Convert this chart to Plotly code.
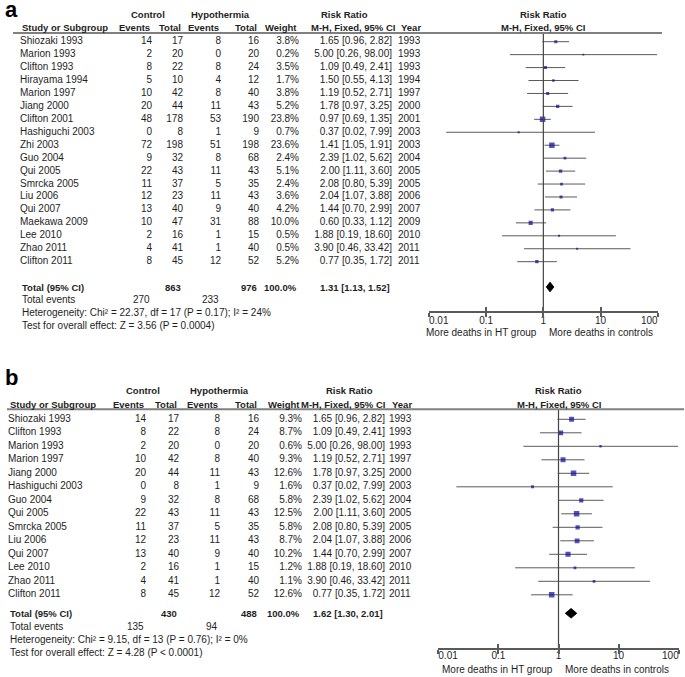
import math
import plotly.graph_objects as go

W, H = 685, 677

# ---- panel a data ----
studies_a = ["Shiozaki 1993", "Marion 1993", "Clifton 1993", "Hirayama 1994", "Marion 1997",
             "Jiang 2000", "Clifton 2001", "Hashiguchi 2003", "Zhi 2003", "Guo 2004", "Qui 2005",
             "Smrcka 2005", "Liu 2006", "Qui 2007", "Maekawa 2009", "Lee 2010", "Zhao 2011",
             "Clifton 2011"]
ctrl_ev_a = [14, 2, 8, 5, 10, 20, 48, 0, 72, 9, 22, 11, 12, 13, 10, 2, 4, 8]
ctrl_tot_a = [17, 20, 22, 10, 42, 44, 178, 8, 198, 32, 43, 37, 23, 40, 47, 16, 41, 45]
hyp_ev_a = [8, 0, 8, 4, 8, 11, 53, 1, 51, 8, 11, 5, 11, 9, 31, 1, 1, 12]
hyp_tot_a = [16, 20, 24, 12, 40, 43, 190, 9, 198, 68, 43, 35, 43, 40, 88, 15, 40, 52]
weight_a = [3.8, 0.2, 3.5, 1.7, 3.8, 5.2, 23.8, 0.7, 23.6, 2.4, 5.1, 2.4, 3.6, 4.2, 10.0, 0.5, 0.5, 5.2]
rr_a = [1.65, 5.00, 1.09, 1.50, 1.19, 1.78, 0.97, 0.37, 1.41, 2.39, 2.00, 2.08, 2.04, 1.44, 0.60, 1.88, 3.90, 0.77]
lo_a = [0.96, 0.26, 0.49, 0.55, 0.52, 0.97, 0.69, 0.02, 1.05, 1.02, 1.11, 0.80, 1.07, 0.70, 0.33, 0.19, 0.46, 0.35]
hi_a = [2.82, 98.00, 2.41, 4.13, 2.71, 3.25, 1.35, 7.99, 1.91, 5.62, 3.60, 5.39, 3.88, 2.99, 1.12, 18.60, 33.42, 1.72]
years_a = [1993, 1993, 1993, 1994, 1997, 2000, 2001, 2003, 2003, 2004, 2005, 2005, 2006, 2007, 2009, 2010, 2011, 2011]
total_a = {"ctrl_tot": 863, "hyp_tot": 976, "rr": 1.31, "lo": 1.13, "hi": 1.52, "ctrl_ev": 270, "hyp_ev": 233}
het_a = "Heterogeneity: Chi² = 22.37, df = 17 (P = 0.17); I² = 24%"
test_a = "Test for overall effect: Z = 3.56 (P = 0.0004)"

# ---- panel b data ----
studies_b = ["Shiozaki 1993", "Clifton 1993", "Marion 1993", "Marion 1997", "Jiang 2000",
             "Hashiguchi 2003", "Guo 2004", "Qui 2005", "Smrcka 2005", "Liu 2006", "Qui 2007",
             "Lee 2010", "Zhao 2011", "Clifton 2011"]
ctrl_ev_b = [14, 8, 2, 10, 20, 0, 9, 22, 11, 12, 13, 2, 4, 8]
ctrl_tot_b = [17, 22, 20, 42, 44, 8, 32, 43, 37, 23, 40, 16, 41, 45]
hyp_ev_b = [8, 8, 0, 8, 11, 1, 8, 11, 5, 11, 9, 1, 1, 12]
hyp_tot_b = [16, 24, 20, 40, 43, 9, 68, 43, 35, 43, 40, 15, 40, 52]
weight_b = [9.3, 8.7, 0.6, 9.3, 12.6, 1.6, 5.8, 12.5, 5.8, 8.7, 10.2, 1.2, 1.1, 12.6]
rr_b = [1.65, 1.09, 5.00, 1.19, 1.78, 0.37, 2.39, 2.00, 2.08, 2.04, 1.44, 1.88, 3.90, 0.77]
lo_b = [0.96, 0.49, 0.26, 0.52, 0.97, 0.02, 1.02, 1.11, 0.80, 1.07, 0.70, 0.19, 0.46, 0.35]
hi_b = [2.82, 2.41, 98.00, 2.71, 3.25, 7.99, 5.62, 3.60, 5.39, 3.88, 2.99, 18.60, 33.42, 1.72]
years_b = [1993, 1993, 1993, 1997, 2000, 2003, 2004, 2005, 2005, 2006, 2007, 2010, 2011, 2011]
total_b = {"ctrl_tot": 430, "hyp_tot": 488, "rr": 1.62, "lo": 1.30, "hi": 2.01, "ctrl_ev": 135, "hyp_ev": 94}
het_b = "Heterogeneity: Chi² = 9.15, df = 13 (P = 0.76); I² = 0%"
test_b = "Test for overall effect: Z = 4.28 (P < 0.0001)"

tick_vals = [0.01, 0.1, 1, 10, 100]
tick_text = ["0.01", "0.1", "1", "10", "100"]
favours = ["More deaths in HT group", "More deaths in controls"]

FONT = "Liberation Sans, Arial, sans-serif"
FS = 10
FSB = 9.5   # bold header text runs a bit narrower in the original
TXT = "#1e1e1e"
LINE = "#5a5a5a"
BLUE = "#0a0a9a"

fig = go.Figure()

# panel layout (pixels)
panels = [
    dict(key="a", x="x2", y="y", p0=41.7, dp=12.94, head1=14, head2=27, hline=33,
         hl_x0=13, hl_x1=662, fx0=429, fx1=657.7, axis_y=312, tick_y=321, fav_y=332,
         left=20, c_ev=152, c_tot=183, h_ev=221, h_tot=259, wt=299, ci=392, ci_h=397, yr=398,
         ctl_c=148, hyp_c=220, rr_c=344, lab_y=9,
         studies=studies_a, ce=ctrl_ev_a, ct=ctrl_tot_a, he=hyp_ev_a, ht=hyp_tot_a, w=weight_a,
         rr=rr_a, lo=lo_a, hi=hi_a, yrs=years_a, tot=total_a, het=het_a, test=test_a, tot_y=287),
    dict(key="b", x="x3", y="y2", p0=419.3, dp=13.5, head1=390.7, head2=404, hline=409.3,
         hl_x0=7, hl_x1=684, fx0=438.3, fx1=678.7, axis_y=649, tick_y=656, fav_y=669,
         left=8, c_ev=146, c_tot=179, h_ev=220, h_tot=259, wt=302, ci=385, ci_h=387, yr=389,
         ctl_c=143, hyp_c=219, rr_c=349, lab_y=377,
         studies=studies_b, ce=ctrl_ev_b, ct=ctrl_tot_b, he=hyp_ev_b, ht=hyp_tot_b, w=weight_b,
         rr=rr_b, lo=lo_b, hi=hi_b, yrs=years_b, tot=total_b, het=het_b, test=test_b, tot_y=613.3),
]

annotations = []
shapes = []


def txt(x, y, s, anchor="left", bold=False, size=None, xref="x", yref="paper", color=TXT):
    if size is None:
        size = FSB if bold else FS
    annotations.append(dict(x=x, y=y, xref=xref, yref=yref, text=("<b>%s</b>" % s) if bold else s,
                            showarrow=False, xanchor=anchor, yanchor="middle",
                            font=dict(family=FONT, size=size, color=color)))


def py(p):
    return 1 - p / H


for P in panels:
    n = len(P["studies"])
    rows = list(range(n))
    row = lambda p: (p - P["p0"]) / P["dp"]

    # table columns as text traces on the pixel x-axis
    cols = [
        (P["left"], P["studies"], "middle right"),
        (P["c_ev"], P["ce"], "middle left"),
        (P["c_tot"], P["ct"], "middle left"),
        (P["h_ev"], P["he"], "middle left"),
        (P["h_tot"], P["ht"], "middle left"),
        (P["wt"], ["%.1f%%" % v for v in P["w"]], "middle left"),
        (P["ci"], ["%.2f [%.2f, %.2f]" % (a, b, c) for a, b, c in zip(P["rr"], P["lo"], P["hi"])], "middle left"),
        (P["yr"], P["yrs"], "middle right"),
    ]
    for xpos, vals, pos in cols:
        fig.add_trace(go.Scatter(x=[xpos] * n, y=rows, mode="text", text=[str(v) for v in vals],
                                 textposition=pos, textfont=dict(family=FONT, size=FS, color=TXT),
                                 xaxis="x", yaxis=P["y"], hoverinfo="skip", showlegend=False))

    # confidence intervals
    cx, cy = [], []
    for i in rows:
        cx += [P["lo"][i], P["hi"][i], None]
        cy += [i, i, None]
    fig.add_trace(go.Scatter(x=cx, y=cy, mode="lines", line=dict(color=LINE, width=1),
                             xaxis=P["x"], yaxis=P["y"], hoverinfo="skip", showlegend=False))
    wmax = max(P["w"])
    fig.add_trace(go.Scatter(x=P["rr"], y=rows, mode="markers",
                             marker=dict(symbol="square", color=BLUE,
                                         size=[1.5 + 4 * math.sqrt(v / wmax) for v in P["w"]],
                                         line=dict(width=0)),
                             xaxis=P["x"], yaxis=P["y"], hoverinfo="skip", showlegend=False))
    # line of no effect
    fig.add_trace(go.Scatter(x=[1, 1], y=[row(P["hline"]), row(P["axis_y"])], mode="lines",
                             line=dict(color="#444444", width=1.2),
                             xaxis=P["x"], yaxis=P["y"], hoverinfo="skip", showlegend=False))
    # pooled diamond
    t = P["tot"]
    ty = row(P["tot_y"])
    hh = 4.8 / P["dp"]
    fig.add_trace(go.Scatter(x=[t["lo"], t["rr"], t["hi"], t["rr"], t["lo"]],
                             y=[ty, ty - hh, ty, ty + hh, ty], mode="lines", fill="toself",
                             fillcolor="black", line=dict(color="black", width=1),
                             xaxis=P["x"], yaxis=P["y"], hoverinfo="skip", showlegend=False))
    # tick labels on the log axis
    fig.add_trace(go.Scatter(x=tick_vals, y=[row(P["tick_y"])] * 5, mode="text", text=tick_text,
                             textposition=["middle right", "middle center", "middle center",
                                           "middle center", "middle left"],
                             textfont=dict(family=FONT, size=FS, color=TXT),
                             xaxis=P["x"], yaxis=P["y"], hoverinfo="skip", showlegend=False))

    # headers
    txt(3, py(P["lab_y"]), P["key"], bold=True, size=22, color="black")
    txt(P["ctl_c"], py(P["head1"]), "Control", "center", True)
    txt(P["hyp_c"], py(P["head1"]), "Hypothermia", "center", True)
    txt(P["rr_c"], py(P["head1"]), "Risk Ratio", "center", True)
    txt(P["left"], py(P["head2"]), "Study or Subgroup", "left", True)
    txt(P["c_ev"], py(P["head2"]), "Events", "right", True)
    txt(P["c_tot"], py(P["head2"]), "Total", "right", True)
    txt(P["h_ev"], py(P["head2"]), "Events", "right", True)
    txt(P["h_tot"], py(P["head2"]), "Total", "right", True)
    txt(P["wt"], py(P["head2"]), "Weight", "right", True)
    txt(P["ci_h"], py(P["head2"]), "M-H, Fixed, 95% CI", "right", True)
    txt(P["yr"] + 1, py(P["head2"]), "Year", "left", True)
    txt(0, py(P["head1"]), "Risk Ratio", "center", True, xref=P["x"])
    txt(0, py(P["head2"]), "M-H, Fixed, 95% CI", "center", True, xref=P["x"])
    shapes.append(dict(type="line", xref="x", yref="paper", x0=P["hl_x0"], x1=P["hl_x1"],
                       y0=py(P["hline"]), y1=py(P["hline"]), line=dict(color="#808080", width=2)))

    # totals and footer
    txt(P["left"], py(P["tot_y"]), "Total (95% CI)", "left", True)
    txt(P["c_tot"], py(P["tot_y"]), str(t["ctrl_tot"]), "right", True)
    txt(P["h_tot"], py(P["tot_y"]), str(t["hyp_tot"]), "right", True)
    txt(P["wt"], py(P["tot_y"]), "100.0%", "right", True)
    txt(P["ci"], py(P["tot_y"]), "%.2f [%.2f, %.2f]" % (t["rr"], t["lo"], t["hi"]), "right", True)
    ey = P["tot_y"] + P["dp"]
    txt(P["left"], py(ey), "Total events")
    txt(P["c_ev"], py(ey), str(t["ctrl_ev"]), "right")
    txt(P["h_ev"], py(ey), str(t["hyp_ev"]), "right")
    txt(P["left"], py(ey + 12.6), P["het"])
    txt(P["left"], py(ey + 25.4), P["test"])

    # favours labels
    annotations.append(dict(x=0, y=py(P["fav_y"]), xref=P["x"], yref="paper", text=favours[0],
                            showarrow=False, xanchor="right", xshift=-4, yanchor="middle",
                            font=dict(family=FONT, size=FS, color=TXT)))
    annotations.append(dict(x=0, y=py(P["fav_y"]), xref=P["x"], yref="paper", text=favours[1],
                            showarrow=False, xanchor="left", xshift=4, yanchor="middle",
                            font=dict(family=FONT, size=FS, color=TXT)))

    P["yrange"] = [row(H), row(0)]

ax_common = dict(type="log", range=[-2, 2], tickvals=tick_vals, showticklabels=False,
                 showgrid=False, zeroline=False, showline=True, linecolor=LINE, linewidth=1.5,
                 tickcolor=LINE, ticklen=4, tickwidth=1.5, anchor="free")

fig.update_layout(
    width=W, height=H,
    margin=dict(l=0, r=0, t=0, b=0),
    paper_bgcolor="white", plot_bgcolor="rgba(0,0,0,0)",
    showlegend=False,
    xaxis=dict(range=[0, W], domain=[0, 1], visible=False, fixedrange=True),
    yaxis=dict(range=panels[0]["yrange"], domain=[0, 1], visible=False, fixedrange=True),
    yaxis2=dict(range=panels[1]["yrange"], domain=[0, 1], visible=False, fixedrange=True, anchor="x",
                overlaying="y"),
    xaxis2=dict(ax_common, domain=[panels[0]["fx0"] / W, panels[0]["fx1"] / W],
                position=py(panels[0]["axis_y"]), ticks="outside"),
    xaxis3=dict(ax_common, domain=[panels[1]["fx0"] / W, panels[1]["fx1"] / W],
                position=py(panels[1]["axis_y"]), ticks="outside"),
    xaxis4=dict(ax_common, domain=[panels[0]["fx0"] / W, panels[0]["fx1"] / W],
                position=py(panels[0]["axis_y"]), ticks="inside", overlaying="x2"),
    xaxis5=dict(ax_common, domain=[panels[1]["fx0"] / W, panels[1]["fx1"] / W],
                position=py(panels[1]["axis_y"]), ticks="inside", overlaying="x3"),
    annotations=annotations,
    shapes=shapes,
)

# dummy traces so the overlay tick axes are drawn
for xa, ya in (("x4", "y"), ("x5", "y2")):
    fig.add_trace(go.Scatter(x=[1], y=[0], mode="markers", marker=dict(opacity=0),
                             xaxis=xa, yaxis=ya, hoverinfo="skip", showlegend=False))

# the page body has a default 8px margin; drop it so the figure sits at the window's corner
fig.write_html("out.html", config={"displayModeBar": False},
               post_script="document.body.style.margin='0px';")
